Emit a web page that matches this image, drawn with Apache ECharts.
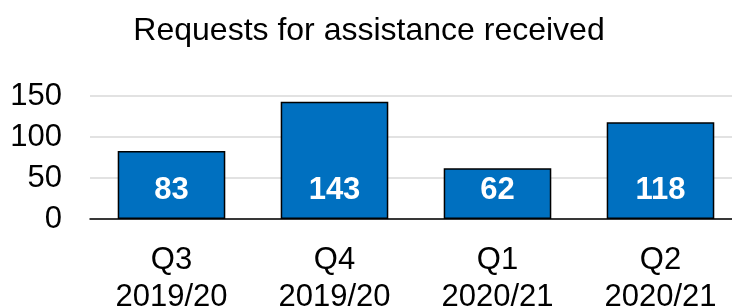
<!DOCTYPE html>
<html>
<head>
<meta charset="utf-8">
<script src="https://cdn.jsdelivr.net/npm/echarts@6/dist/echarts.min.js"></script>
<style>
  html, body { margin: 0; padding: 0; background: #fff; }
  #main { width: 732px; height: 307px; }
</style>
</head>
<body>
<div id="main"></div>
<script>
var categories = ['Q3\n2019/20', 'Q4\n2019/20', 'Q1\n2020/21', 'Q2\n2020/21'];
var requests = [83, 143, 62, 118];
var yTicks = [0, 50, 100, 150];

var chart = echarts.init(document.getElementById('main'));

chart.setOption({
  animation: false,
  textStyle: { fontFamily: 'Liberation Sans, Arial, sans-serif' },
  title: {
    text: 'Requests for assistance received',
    left: 364,
    textAlign: 'center',
    top: 10,
    textStyle: { fontSize: 32, fontWeight: 'normal', color: '#000' }
  },
  // plot runs past the right edge of the window, like the source
  grid: { left: 90, width: 652, top: 96, bottom: 88, outerBoundsMode: 'none' },
  xAxis: {
    type: 'category',
    data: categories,
    axisLine: { lineStyle: { color: '#000', width: 1.5 } },
    axisTick: { show: false },
    axisLabel: { fontSize: 31, color: '#000', lineHeight: 37, margin: 23 }
  },
  yAxis: {
    type: 'value',
    min: yTicks[0],
    max: yTicks[yTicks.length - 1],
    interval: 50,
    axisLine: { show: false },
    axisTick: { show: false },
    splitLine: { lineStyle: { color: '#d9d9d9', width: 1.5 } },
    axisLabel: { fontSize: 31, color: '#000', margin: 28 }
  },
  series: [{
    type: 'bar',
    data: requests,
    barCategoryGap: '34%',
    itemStyle: { color: '#0070C0', borderColor: '#000', borderWidth: 1.5 },
    label: {
      show: true,
      position: 'insideBottom',
      distance: 13,
      color: '#fff',
      fontSize: 31,
      fontWeight: 'bold'
    }
  }]
});
</script>
</body>
</html>
